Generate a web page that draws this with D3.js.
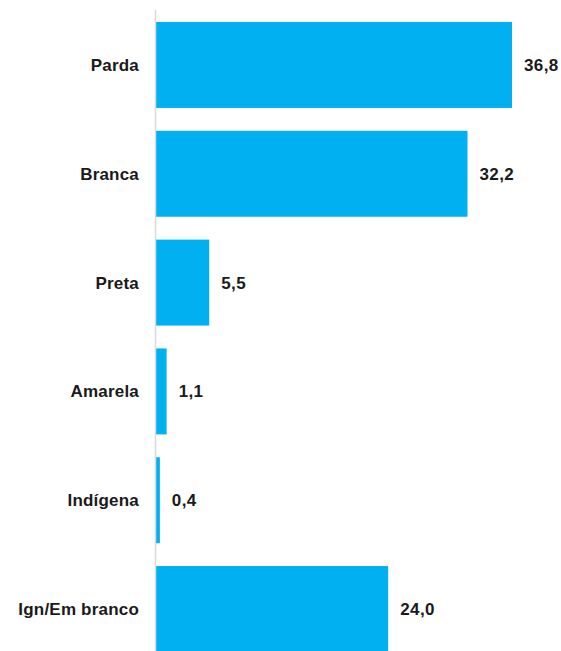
<!DOCTYPE html>
<html>
<head>
<meta charset="utf-8">
<script src="https://cdn.jsdelivr.net/npm/d3@7"></script>
<style>
  html, body { margin: 0; padding: 0; background: #fff; }
  svg { display: block; }
  text { font-family: "Liberation Sans", Arial, sans-serif; font-weight: bold; fill: #1a1a1a; }
</style>
</head>
<body>
<script>
const categories = ["Parda", "Branca", "Preta", "Amarela", "Indígena", "Ign/Em branco"];
const values = [36.8, 32.2, 5.5, 1.1, 0.4, 24.0];
const valueLabels = ["36,8", "32,2", "5,5", "1,1", "0,4", "24,0"];

const W = 561, H = 651;
const svg = d3.select("body").append("svg").attr("width", W).attr("height", H);

const x = d3.scaleLinear().domain([0, 36.8]).range([156, 512]);
const y = d3.scaleBand().domain(categories).range([10, 664]).paddingInner(0.21).paddingOuter(0.11);

const data = categories.map((c, i) => ({ c, v: values[i], label: valueLabels[i] }));

svg.selectAll("rect.bar").data(data).join("rect")
  .attr("class", "bar")
  .attr("x", x(0))
  .attr("y", d => y(d.c))
  .attr("width", d => x(d.v) - x(0))
  .attr("height", y.bandwidth())
  .attr("fill", "#00B0F0");

// axis line
svg.append("line")
  .attr("x1", x(0) - 0.5).attr("x2", x(0) - 0.5)
  .attr("y1", 10).attr("y2", H)
  .attr("stroke", "#d9d9d9").attr("stroke-width", 1.5);

svg.selectAll("text.cat").data(data).join("text")
  .attr("class", "cat")
  .attr("x", x(0) - 17)
  .attr("y", d => y(d.c) + y.bandwidth() / 2)
  .attr("dy", "0.35em")
  .attr("text-anchor", "end")
  .style("font-size", "17px")
  .style("letter-spacing", "0.2px")
  .text(d => d.c);

svg.selectAll("text.val").data(data).join("text")
  .attr("class", "val")
  .attr("x", d => x(d.v) + 12)
  .attr("y", d => y(d.c) + y.bandwidth() / 2)
  .attr("dy", "0.35em")
  .style("font-size", "17px")
  .style("letter-spacing", "0.4px")
  .text(d => d.label);
</script>
</body>
</html>
